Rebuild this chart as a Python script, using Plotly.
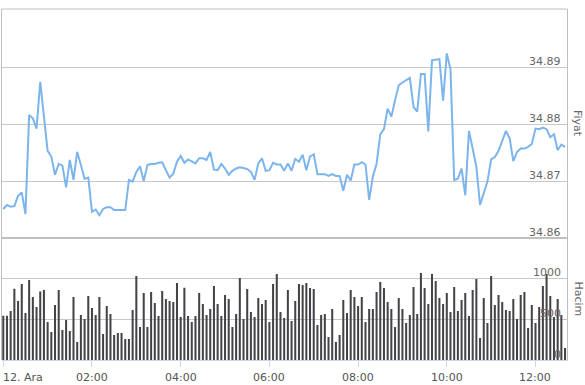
import pandas as pd
import plotly.graph_objects as go

# ---- data ----
start_time = "2023-12-12 00:00"
n_points = 153
times = pd.date_range(start_time, periods=n_points, freq="5min")

price = [
    34.8651, 34.8658, 34.8655, 34.8656, 34.8674, 34.8680, 34.8642, 34.8816, 34.8810, 34.8792,
    34.8874, 34.8813, 34.8753, 34.8743, 34.8711, 34.8730, 34.8727, 34.8689, 34.8737, 34.8702,
    34.8751, 34.8728, 34.8704, 34.8706, 34.8646, 34.8650, 34.8640, 34.8651, 34.8654, 34.8654,
    34.8649, 34.8649, 34.8649, 34.8649, 34.8702, 34.8699, 34.8716, 34.8726, 34.8700, 34.8728,
    34.8730, 34.8730, 34.8732, 34.8733, 34.8719, 34.8706, 34.8713, 34.8734, 34.8744, 34.8732,
    34.8738, 34.8734, 34.8731, 34.8740, 34.8740, 34.8737, 34.8751, 34.8720, 34.8719, 34.8730,
    34.8722, 34.8711, 34.8718, 34.8722, 34.8724, 34.8723, 34.8721, 34.8716, 34.8702, 34.8731,
    34.8740, 34.8718, 34.8719, 34.8732, 34.8729, 34.8729, 34.8718, 34.8731, 34.8718, 34.8739,
    34.8734, 34.8746, 34.8719, 34.8743, 34.8747, 34.8712, 34.8712, 34.8712, 34.8709, 34.8712,
    34.8709, 34.8709, 34.8683, 34.8711, 34.8701, 34.8729, 34.8729, 34.8733, 34.8729, 34.8667,
    34.8708, 34.8730, 34.8782, 34.8791, 34.8827, 34.8813, 34.8842, 34.8868, 34.8873, 34.8877,
    34.8881, 34.8830, 34.8822, 34.8888, 34.8888, 34.8787, 34.8912, 34.8913, 34.8914, 34.8841,
    34.8924, 34.8896, 34.8702, 34.8704, 34.8722, 34.8675, 34.8788, 34.8757, 34.8725, 34.8658,
    34.8678, 34.8699, 34.8738, 34.8742, 34.8753, 34.8772, 34.8788, 34.8775, 34.8735, 34.8751,
    34.8757, 34.8757, 34.8760, 34.8765, 34.8792, 34.8791, 34.8794, 34.8791, 34.8777, 34.8782,
    34.8754, 34.8764, 34.8760,
]

volume = [
    541, 541, 598, 870, 720, 927, 573, 976, 768, 646,
    837, 854, 463, 341, 671, 854, 366, 488, 354, 768,
    220, 549, 500, 780, 634, 549, 768, 317, 659, 561,
    305, 329, 329, 256, 256, 610, 1024, 402, 817, 402,
    829, 695, 537, 841, 744, 720, 707, 939, 524, 882,
    537, 463, 537, 817, 683, 549, 622, 902, 683, 537,
    793, 744, 402, 561, 1000, 500, 866, 585, 524, 756,
    683, 732, 463, 927, 1049, 585, 512, 854, 476, 720,
    927, 915, 939, 878, 866, 427, 549, 561, 280, 622,
    220, 305, 732, 573, 854, 768, 659, 768, 463, 622,
    622, 829, 951, 878, 707, 622, 402, 756, 622, 451,
    549, 890, 561, 1061, 878, 683, 1049, 963, 756, 683,
    817, 585, 890, 598, 732, 817, 537, 854, 988, 268,
    756, 451, 1024, 671, 793, 707, 610, 598, 744, 500,
    793, 829, 390, 671, 451, 646, 902, 1049, 780, 524,
    744, 549, 146,
]

x_tick_times = ["2023-12-12 00:00", "2023-12-12 02:00", "2023-12-12 04:00", "2023-12-12 06:00",
                "2023-12-12 08:00", "2023-12-12 10:00", "2023-12-12 12:00"]
x_tick_labels = ["12. Ara", "02:00", "04:00", "06:00", "08:00", "10:00", "12:00"]
price_ticks = [34.86, 34.87, 34.88, 34.89]
price_tick_labels = ["34.86", "34.87", "34.88", "34.89"]
volume_ticks = [0, 500, 1000]
volume_tick_labels = ["0", "500", "1000"]
price_title = "Fiyat"
volume_title = "Hacim"

# ---- layout geometry ----
W, H = 585, 385
x0, x1 = 1.5 / W, 567.5 / W
top_dom = [147 / H, 376 / H]
bot_dom = [25 / H, 147 / H]
x_range = [pd.Timestamp(start_time) - pd.Timedelta(minutes=2.4),
           pd.Timestamp(start_time) + pd.Timedelta(hours=12, minutes=43.3)]

FONT = "DejaVu Sans"
LABEL_COLOR = "#666666"
XLABEL_COLOR = "#555555"
GRID = "#c8c8c8"
AXIS_BLUE = "#ccd6eb"

fig = go.Figure()
fig.add_trace(go.Bar(x=times, y=volume, xaxis="x", yaxis="y2",
                     marker=dict(color="#434348", line=dict(width=0)),
                     width=165000, hoverinfo="skip"))
fig.add_trace(go.Scatter(x=times, y=price, xaxis="x2", yaxis="y", mode="lines",
                         line=dict(color="#7cb5ec", width=2), hoverinfo="skip"))

fig.update_layout(
    width=W, height=H, margin=dict(l=0, r=0, t=0, b=0),
    paper_bgcolor="white", plot_bgcolor="white", showlegend=False,
    font=dict(family=FONT, size=11, color=LABEL_COLOR),
    xaxis=dict(domain=[x0, x1], anchor="y2", type="date", range=x_range,
               tickvals=x_tick_times, ticktext=[""] * len(x_tick_times),
               ticks="outside", ticklen=6,
               tickcolor=AXIS_BLUE, showline=True, linecolor=AXIS_BLUE, linewidth=1,
               showgrid=False, zeroline=False),
    xaxis2=dict(domain=[x0, x1], anchor="y", matches="x", type="date",
                showticklabels=False, showgrid=False, zeroline=False, ticks=""),
    yaxis=dict(domain=top_dom, anchor="x2", side="right", range=[34.86, 34.9002],
               tickvals=price_ticks, showticklabels=False,
               showgrid=True, gridcolor=GRID, gridwidth=1, zeroline=False, ticks=""),
    yaxis2=dict(domain=bot_dom, anchor="x", side="right", range=[0, 1488],
                tickvals=volume_ticks, showticklabels=False,
                showgrid=True, gridcolor=GRID, gridwidth=1, zeroline=False, ticks=""),
)

# x tick labels (first one left-aligned at its tick, others centred)
for i, (t, lab) in enumerate(zip(x_tick_times, x_tick_labels)):
    fig.add_annotation(x=t, y=bot_dom[0], xref="x", yref="paper", yshift=-9,
                       text=lab, showarrow=False, xanchor="left" if i == 0 else "center",
                       yanchor="top", xshift=-2 if i == 0 else 0,
                       font=dict(family=FONT, size=11, color=XLABEL_COLOR))

# y tick labels, right-aligned inside plot, sitting just above the grid lines
for v, lab in zip(price_ticks, price_tick_labels):
    fig.add_annotation(x=563 / W, y=v, xref="paper", yref="y", text=lab, showarrow=False,
                       xanchor="right", yanchor="middle", yshift=6,
                       font=dict(family=FONT, size=11, color=LABEL_COLOR))
for v, lab in zip(volume_ticks, volume_tick_labels):
    fig.add_annotation(x=563 / W, y=v, xref="paper", yref="y2", text=lab, showarrow=False,
                       xanchor="right", yanchor="middle", yshift=6,
                       font=dict(family=FONT, size=11, color=LABEL_COLOR))

fig.add_annotation(x=577.5 / W, y=sum(top_dom) / 2, xref="paper", yref="paper",
                   text=price_title, textangle=90, showarrow=False,
                   xanchor="center", yanchor="middle", borderpad=0,
                   font=dict(family=FONT, size=11, color=LABEL_COLOR))
fig.add_annotation(x=577.5 / W, y=sum(bot_dom) / 2, xref="paper", yref="paper",
                   text=volume_title, textangle=90, showarrow=False,
                   xanchor="center", yanchor="middle", borderpad=0,
                   font=dict(family=FONT, size=11, color=LABEL_COLOR))

# panel frame
frame = dict(type="line", xref="paper", yref="paper", line=dict(color="#c0c0c0", width=1))
fig.add_shape(**frame, x0=x0, x1=x0, y0=bot_dom[0], y1=top_dom[1])
fig.add_shape(**frame, x0=x1, x1=x1, y0=bot_dom[0], y1=top_dom[1])
fig.add_shape(**frame, x0=x0, x1=x1, y0=top_dom[1], y1=top_dom[1])
fig.add_shape(type="line", xref="paper", yref="paper", x0=x0, x1=x1,
              y0=top_dom[0], y1=top_dom[0], line=dict(color="#c0c0c0", width=2))

fig.write_html("out.html")
